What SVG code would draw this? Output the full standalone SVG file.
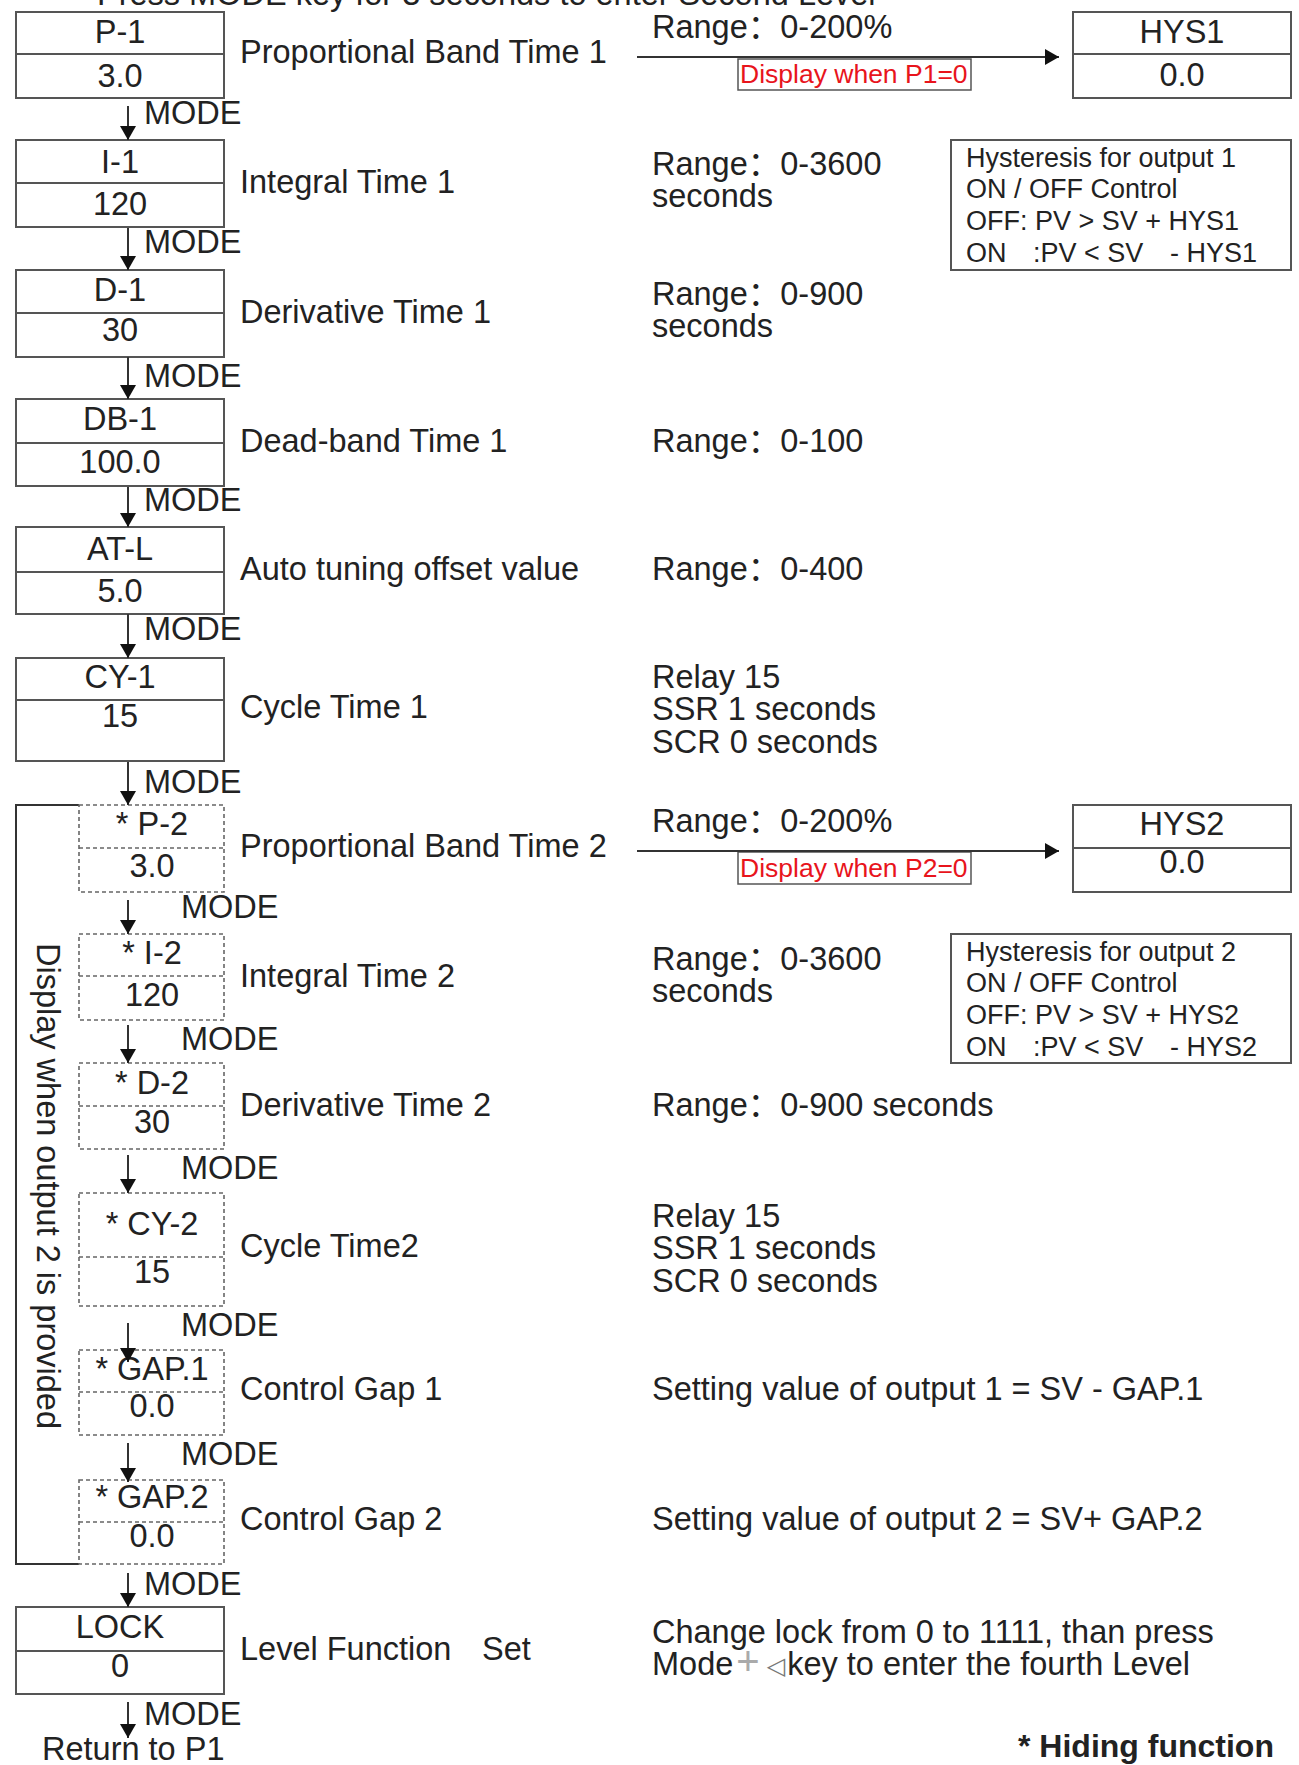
<svg xmlns="http://www.w3.org/2000/svg" width="1299" height="1765" viewBox="0 0 1299 1765">
<style>
text{font-family:"Liberation Sans","Noto Sans CJK SC",Arial,sans-serif;fill:#222;font-size:32.5px}
.c{text-anchor:middle}
.sm{font-size:27px}
.red{font-size:26.5px;fill:#e8141c}
.b{font-weight:bold;font-size:32px}
.box{fill:#fff;stroke:#555;stroke-width:2}
.div{stroke:#555;stroke-width:2}
.dbox{fill:none;stroke:#666;stroke-width:1.6;stroke-dasharray:4 3}
.conn{stroke:#333;stroke-width:2;fill:none}
</style>
<defs>
<marker id="ah" viewBox="0 0 14 16" refX="14" refY="8" markerWidth="14" markerHeight="16" markerUnits="userSpaceOnUse" orient="auto">
<path d="M0,0 L14,8 L0,16 z" fill="#111"/>
</marker>
</defs>
<rect width="1299" height="1765" fill="#fff"/>
<text x="97" y="5" font-size="33.5">Press MODE key for 3 seconds to enter Second Level</text>

<g id="bracket">
<path class="conn" d="M79,805 H16 V1564 H79" stroke="#555"/>
<text transform="translate(37,943) rotate(90)">Display when output 2 is provided</text>
</g>

<g id="n-p1"><rect class="box" x="16" y="12" width="208" height="86"/><line class="div" x1="16" y1="54" x2="224" y2="54"/><text class="c" x="120" y="43">P-1</text><text class="c" x="120" y="87">3.0</text></g>
<text x="240" y="63">Proportional Band Time 1</text>
<text x="652" y="38">Range：0-200%</text>
<g id="n-hys1"><rect class="box" x="1073" y="12" width="218" height="86"/><line class="div" x1="1073" y1="54" x2="1291" y2="54"/><text class="c" x="1182" y="43">HYS1</text><text class="c" x="1182" y="86">0.0</text></g>
<g id="note-p1"><rect x="738" y="59" width="233" height="31" fill="#fff" stroke="#555" stroke-width="1.5"/><text class="red" x="740" y="83">Display when P1=0</text></g>
<g id="hyst1"><rect class="box" x="951" y="140" width="340" height="130"/>
<text class="sm" x="966" y="167">Hysteresis for output 1</text>
<text class="sm" x="966" y="198">ON / OFF Control</text>
<text class="sm" x="966" y="230">OFF: PV &gt; SV + HYS1</text>
<text class="sm" x="966" y="262">ON</text><text class="sm" x="1033" y="262">:PV &lt; SV</text><text class="sm" x="1170" y="262">- HYS1</text></g>

<g id="n-i1"><rect class="box" x="16" y="140" width="208" height="87"/><line class="div" x1="16" y1="183" x2="224" y2="183"/><text class="c" x="120" y="173">I-1</text><text class="c" x="120" y="215">120</text></g>
<text x="240" y="193">Integral Time 1</text>
<text x="652" y="175">Range：0-3600</text>
<text x="652" y="207">seconds</text>

<g id="n-d1"><rect class="box" x="16" y="270" width="208" height="87"/><line class="div" x1="16" y1="313" x2="224" y2="313"/><text class="c" x="120" y="301">D-1</text><text class="c" x="120" y="341">30</text></g>
<text x="240" y="323">Derivative Time 1</text>
<text x="652" y="305">Range：0-900</text>
<text x="652" y="337">seconds</text>

<g id="n-db1"><rect class="box" x="16" y="399" width="208" height="87"/><line class="div" x1="16" y1="443" x2="224" y2="443"/><text class="c" x="120" y="430">DB-1</text><text class="c" x="120" y="473">100.0</text></g>
<text x="240" y="452">Dead-band Time 1</text>
<text x="652" y="452">Range：0-100</text>

<g id="n-atl"><rect class="box" x="16" y="527" width="208" height="87"/><line class="div" x1="16" y1="572" x2="224" y2="572"/><text class="c" x="120" y="560">AT-L</text><text class="c" x="120" y="602">5.0</text></g>
<text x="240" y="580">Auto tuning offset value</text>
<text x="652" y="580">Range：0-400</text>

<g id="n-cy1"><rect class="box" x="16" y="658" width="208" height="103"/><line class="div" x1="16" y1="700" x2="224" y2="700"/><text class="c" x="120" y="688">CY-1</text><text class="c" x="120" y="727">15</text></g>
<text x="240" y="718">Cycle Time 1</text>
<text x="652" y="688">Relay 15</text>
<text x="652" y="720">SSR 1 seconds</text>
<text x="652" y="753">SCR 0 seconds</text>

<g id="n-p2"><rect class="dbox" x="79" y="805" width="145" height="87"/><line class="dbox" x1="79" y1="848" x2="224" y2="848"/><text class="c" x="152" y="835">* P-2</text><text class="c" x="152" y="877">3.0</text></g>
<text x="240" y="857">Proportional Band Time 2</text>
<text x="652" y="832">Range：0-200%</text>
<g id="n-hys2"><rect class="box" x="1073" y="805" width="218" height="87"/><line class="div" x1="1073" y1="848" x2="1291" y2="848"/><text class="c" x="1182" y="835">HYS2</text><text class="c" x="1182" y="873">0.0</text></g>
<g id="note-p2"><rect x="738" y="852" width="233" height="32" fill="#fff" stroke="#555" stroke-width="1.5"/><text class="red" x="740" y="877">Display when P2=0</text></g>
<g id="hyst2"><rect class="box" x="951" y="934" width="340" height="129"/>
<text class="sm" x="966" y="961">Hysteresis for output 2</text>
<text class="sm" x="966" y="992">ON / OFF Control</text>
<text class="sm" x="966" y="1024">OFF: PV &gt; SV + HYS2</text>
<text class="sm" x="966" y="1056">ON</text><text class="sm" x="1033" y="1056">:PV &lt; SV</text><text class="sm" x="1170" y="1056">- HYS2</text></g>

<g id="n-i2"><rect class="dbox" x="79" y="934" width="145" height="86"/><line class="dbox" x1="79" y1="976" x2="224" y2="976"/><text class="c" x="152" y="964">* I-2</text><text class="c" x="152" y="1006">120</text></g>
<text x="240" y="987">Integral Time 2</text>
<text x="652" y="970">Range：0-3600</text>
<text x="652" y="1002">seconds</text>

<g id="n-d2"><rect class="dbox" x="79" y="1063" width="145" height="86"/><line class="dbox" x1="79" y1="1106" x2="224" y2="1106"/><text class="c" x="152" y="1094">* D-2</text><text class="c" x="152" y="1133">30</text></g>
<text x="240" y="1116">Derivative Time 2</text>
<text x="652" y="1116">Range：0-900 seconds</text>

<g id="n-cy2"><rect class="dbox" x="79" y="1193" width="145" height="113"/><line class="dbox" x1="79" y1="1257" x2="224" y2="1257"/><text class="c" x="152" y="1235">* CY-2</text><text class="c" x="152" y="1283">15</text></g>
<text x="240" y="1257">Cycle Time2</text>
<text x="652" y="1227">Relay 15</text>
<text x="652" y="1259">SSR 1 seconds</text>
<text x="652" y="1292">SCR 0 seconds</text>

<g id="n-gap1"><rect class="dbox" x="79" y="1350" width="145" height="85"/><line class="dbox" x1="79" y1="1392" x2="224" y2="1392"/><text class="c" x="152" y="1380">* GAP.1</text><text class="c" x="152" y="1417">0.0</text></g>
<text x="240" y="1400">Control Gap 1</text>
<text x="652" y="1400">Setting value of output 1 = SV - GAP.1</text>

<g id="n-gap2"><rect class="dbox" x="79" y="1480" width="145" height="84"/><line class="dbox" x1="79" y1="1522" x2="224" y2="1522"/><text class="c" x="152" y="1508">* GAP.2</text><text class="c" x="152" y="1547">0.0</text></g>
<text x="240" y="1530">Control Gap 2</text>
<text x="652" y="1530">Setting value of output 2 = SV+ GAP.2</text>

<g id="n-lock"><rect class="box" x="16" y="1607" width="208" height="87"/><line class="div" x1="16" y1="1651" x2="224" y2="1651"/><text class="c" x="120" y="1638">LOCK</text><text class="c" x="120" y="1677">0</text></g>
<text x="240" y="1660">Level Function</text><text x="482" y="1660">Set</text>
<text x="652" y="1643">Change lock from 0 to 1111, than press</text>
<text x="652" y="1675">Mode<tspan dx="3" font-size="40" style="fill:#aaa">+</tspan><tspan dx="7" dy="-1" font-size="24" style="fill:#777;font-family:'DejaVu Sans',sans-serif">◁</tspan><tspan dx="2" dy="1">key to enter the fourth Level</tspan></text>

<g id="n-return"><text x="42" y="1760">Return to P1</text></g>
<text class="b" x="1018" y="1757">* Hiding function</text>

<g id="connectors">
<line class="conn" x1="637" y1="57" x2="1059" y2="57" marker-end="url(#ah)"/>
<line class="conn" x1="637" y1="851" x2="1059" y2="851" marker-end="url(#ah)"/>
<line class="conn" x1="128" y1="106" x2="128" y2="140" marker-end="url(#ah)"/>
<line class="conn" x1="128" y1="228" x2="128" y2="270" marker-end="url(#ah)"/>
<line class="conn" x1="128" y1="357" x2="128" y2="399" marker-end="url(#ah)"/>
<line class="conn" x1="128" y1="487" x2="128" y2="527" marker-end="url(#ah)"/>
<line class="conn" x1="128" y1="614" x2="128" y2="658" marker-end="url(#ah)"/>
<line class="conn" x1="128" y1="762" x2="128" y2="805" marker-end="url(#ah)"/>
<line class="conn" x1="128" y1="900" x2="128" y2="934" marker-end="url(#ah)"/>
<line class="conn" x1="128" y1="1025" x2="128" y2="1063" marker-end="url(#ah)"/>
<line class="conn" x1="128" y1="1155" x2="128" y2="1193" marker-end="url(#ah)"/>
<line class="conn" x1="128" y1="1323" x2="128" y2="1362" marker-end="url(#ah)"/>
<line class="conn" x1="128" y1="1443" x2="128" y2="1482" marker-end="url(#ah)"/>
<line class="conn" x1="128" y1="1573" x2="128" y2="1607" marker-end="url(#ah)"/>
<line class="conn" x1="128" y1="1702" x2="128" y2="1738" marker-end="url(#ah)"/>
<text x="144" y="124">MODE</text>
<text x="144" y="253">MODE</text>
<text x="144" y="387">MODE</text>
<text x="144" y="511">MODE</text>
<text x="144" y="640">MODE</text>
<text x="144" y="793">MODE</text>
<text x="181" y="918">MODE</text>
<text x="181" y="1050">MODE</text>
<text x="181" y="1179">MODE</text>
<text x="181" y="1336">MODE</text>
<text x="181" y="1465">MODE</text>
<text x="144" y="1595">MODE</text>
<text x="144" y="1725">MODE</text>
</g>
</svg>
